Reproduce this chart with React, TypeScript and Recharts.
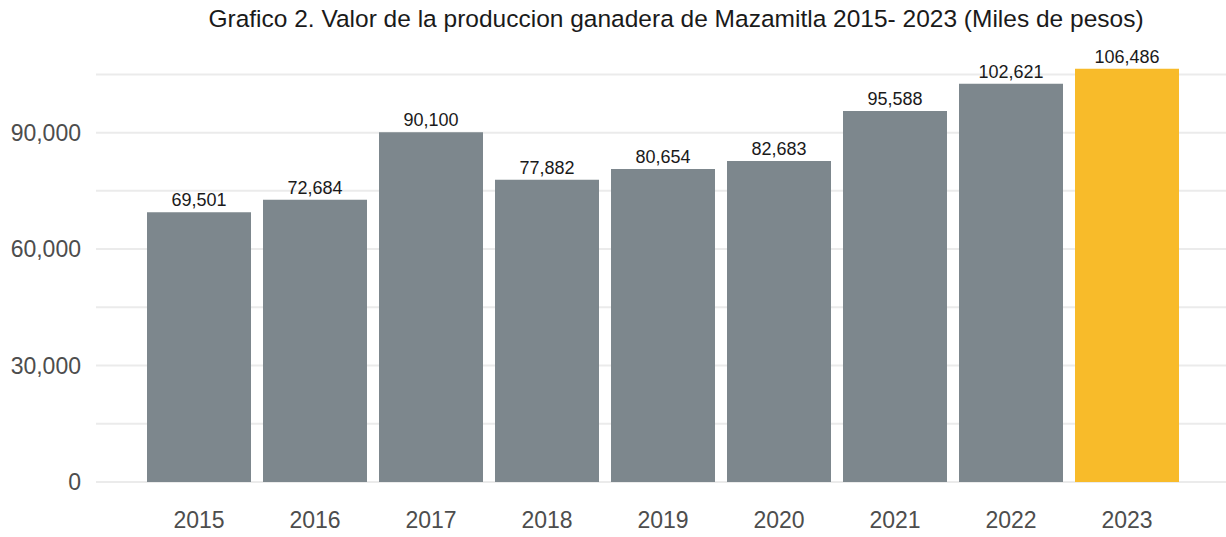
import { BarChart, Bar, XAxis, YAxis, CartesianGrid, LabelList, Cell } from "recharts";

const years = ["2015", "2016", "2017", "2018", "2019", "2020", "2021", "2022", "2023"];
const values = [69501, 72684, 90100, 77882, 80654, 82683, 95588, 102621, 106486];
const yTicks = [0, 15000, 30000, 45000, 60000, 75000, 90000, 105000];
const labeledTicks = [0, 30000, 60000, 90000];

const data = years.map((year, i) => ({ year, value: values[i] }));

const FONT = "Arial, 'Liberation Sans', sans-serif";
const fmt = (v: number) => v.toLocaleString("en-US");

export default function App() {
  return (
    <div style={{ position: "absolute", left: 0, top: 0, width: 1226, height: 537, background: "#fff", fontFamily: FONT }}>
      <div
        style={{
          position: "absolute",
          top: 5,
          left: 0,
          width: 1352,
          textAlign: "center",
          fontSize: 24.5,
          color: "#1a1a1a",
          whiteSpace: "nowrap",
        }}
      >
        Grafico 2. Valor de la produccion ganadera de Mazamitla 2015- 2023 (Miles de pesos)
      </div>
      <BarChart
        width={1226}
        height={537}
        data={data}
        margin={{ top: 55, right: 0, left: 0, bottom: 0 }}
        barSize={104}
      >
        <CartesianGrid vertical={false} stroke="#ebebeb" strokeWidth={2} syncWithTicks />
        <XAxis
          dataKey="year"
          height={55}
          axisLine={false}
          tickLine={false}
          padding={{ left: 45, right: 41 }}
          tickMargin={24}
          tick={{ fill: "#4d4d4d", fontSize: 23, fontFamily: FONT }}
        />
        <YAxis
          width={96}
          domain={[0, 110000]}
          ticks={yTicks}
          interval={0}
          axisLine={false}
          tickLine={false}
          tickMargin={9}
          tickFormatter={(v: number) => (labeledTicks.includes(v) ? fmt(v) : "")}
          tick={{ fill: "#4d4d4d", fontSize: 23, fontFamily: FONT }}
        />
        <Bar dataKey="value" isAnimationActive={false}>
          {data.map((d, i) => (
            <Cell key={d.year} fill={i === data.length - 1 ? "#f8bb2a" : "#7d878d"} />
          ))}
          <LabelList
            dataKey="value"
            position="top"
            offset={6}
            formatter={(v: any) => fmt(Number(v))}
            style={{ fill: "#1a1a1a", fontSize: 18, fontFamily: FONT }}
          />
        </Bar>
      </BarChart>
    </div>
  );
}
